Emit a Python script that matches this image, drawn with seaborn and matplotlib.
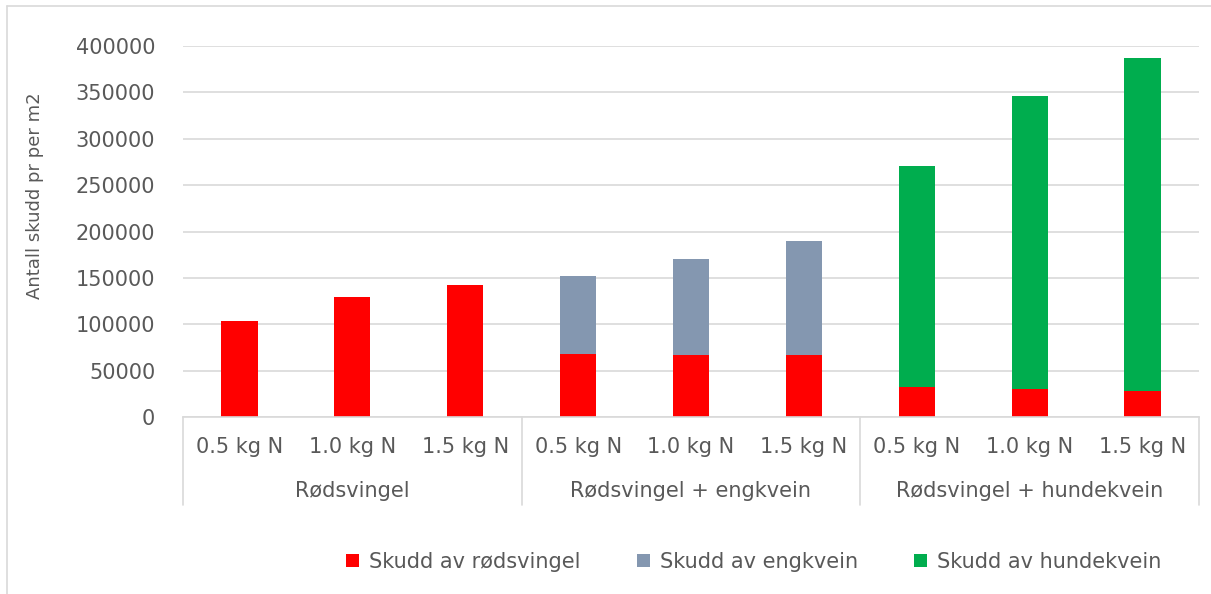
import matplotlib
matplotlib.use("Agg")
import matplotlib.pyplot as plt
import matplotlib.transforms as mtransforms
from matplotlib.patches import Patch
from matplotlib.lines import Line2D
import seaborn as sns
import pandas as pd

# Data: shoots per m2, by mixture and nitrogen dose
groups = ["Rødsvingel", "Rødsvingel + engkvein", "Rødsvingel + hundekvein"]
doses = ["0.5 kg N", "1.0 kg N", "1.5 kg N"]
skudd_rodsvingel = [103000, 129500, 142000, 68300, 67300, 67300, 32300, 30200, 27700]
skudd_engkvein = [1000, 0, 0, 83400, 102700, 122500, 0, 0, 0]
skudd_hundekvein = [0, 0, 0, 0, 0, 0, 238000, 315800, 359300]
series_names = ["Skudd av rødsvingel", "Skudd av engkvein", "Skudd av hundekvein"]
series_colors = ["#FF0000", "#8497B0", "#00AD4E"]

yticks = [0, 50000, 100000, 150000, 200000, 250000, 300000, 350000, 400000]

sns.set_theme(style="white")
plt.rcParams["font.family"] = ["DejaVu Sans"]
text_col = "#595959"
grid_col = "#D9D9D9"
fs = 15

keys = [f"{g}|{d}" for g in groups for d in doses]
df = pd.DataFrame({
    "key": keys,
    "red": skudd_rodsvingel,
    "grey": skudd_engkvein,
    "green": skudd_hundekvein,
})
df["top_green"] = df["red"] + df["grey"] + df["green"]
df["top_grey"] = df["red"] + df["grey"]

W, H = 1211, 594
fig = plt.figure(figsize=(W / 100, H / 100), dpi=100)
fig.patch.set_facecolor("white")
ax = fig.add_axes([183 / W, 1 - 417 / H, (1199 - 183) / W, (417 - 46) / H])

# Stacked bars: cumulative layers drawn back to front
for col, color in [("top_green", series_colors[2]), ("top_grey", series_colors[1]), ("red", series_colors[0])]:
    sns.barplot(data=df, x="key", y=col, order=keys, color=color, width=0.32,
                saturation=1, ax=ax, errorbar=None, edgecolor="none", linewidth=0)

ax.set_ylim(0, 400000)
ax.set_xlim(-0.5, len(keys) - 0.5)
ax.set_yticks(yticks)
ax.set_yticklabels([str(v) for v in yticks], color=text_col, fontsize=fs)
ax.tick_params(axis="y", length=0, pad=20)
ax.tick_params(axis="x", length=0)
ax.set_xticks(range(len(keys)))
ax.set_xticklabels([])
ax.set_xlabel("")
ax.set_ylabel("")
ax.yaxis.grid(True, color=grid_col, linewidth=1.2)
ax.set_axisbelow(True)
for s in ["left", "right", "top"]:
    ax.spines[s].set_visible(False)
ax.spines["bottom"].set_color(grid_col)
ax.spines["bottom"].set_linewidth(1.2)

# Two-level category axis
trans = mtransforms.blended_transform_factory(ax.transData, ax.transAxes)
px = 1 / (417 - 46)
for i, d in enumerate(keys):
    ax.text(i, -30 * px, d.split("|")[1], transform=trans, ha="center", va="center",
            color=text_col, fontsize=fs)
for gi, g in enumerate(groups):
    ax.text(gi * 3 + 1, -74 * px, g, transform=trans, ha="center", va="center",
            color=text_col, fontsize=fs)
for xb in [-0.5, 2.5, 5.5, 8.5]:
    ax.add_line(Line2D([xb, xb], [0, -88 * px], transform=trans, color=grid_col,
                       linewidth=1.2, clip_on=False))

fig.text(35 / W, 1 - 196 / H, "Antall skudd pr per m2", rotation=90, ha="center", va="center",
         color=text_col, fontsize=13)

# Legend
handles = [Patch(facecolor=c, edgecolor="none") for c in series_colors]
fig.legend(handles, series_names, loc="center", bbox_to_anchor=(754 / W, 1 - 562 / H),
           ncol=3, frameon=False, fontsize=fs, labelcolor=text_col, handlelength=0.6,
           handleheight=0.6, handletextpad=0.5, columnspacing=2.7)

# Chart frame
fig.add_artist(Line2D([7 / W, 7 / W], [0, 1 - 6 / H], transform=fig.transFigure, color=grid_col, linewidth=1.2))
fig.add_artist(Line2D([7 / W, 1], [1 - 6 / H, 1 - 6 / H], transform=fig.transFigure, color=grid_col, linewidth=1.2))

fig.savefig("out.png", dpi=100, facecolor="white")
